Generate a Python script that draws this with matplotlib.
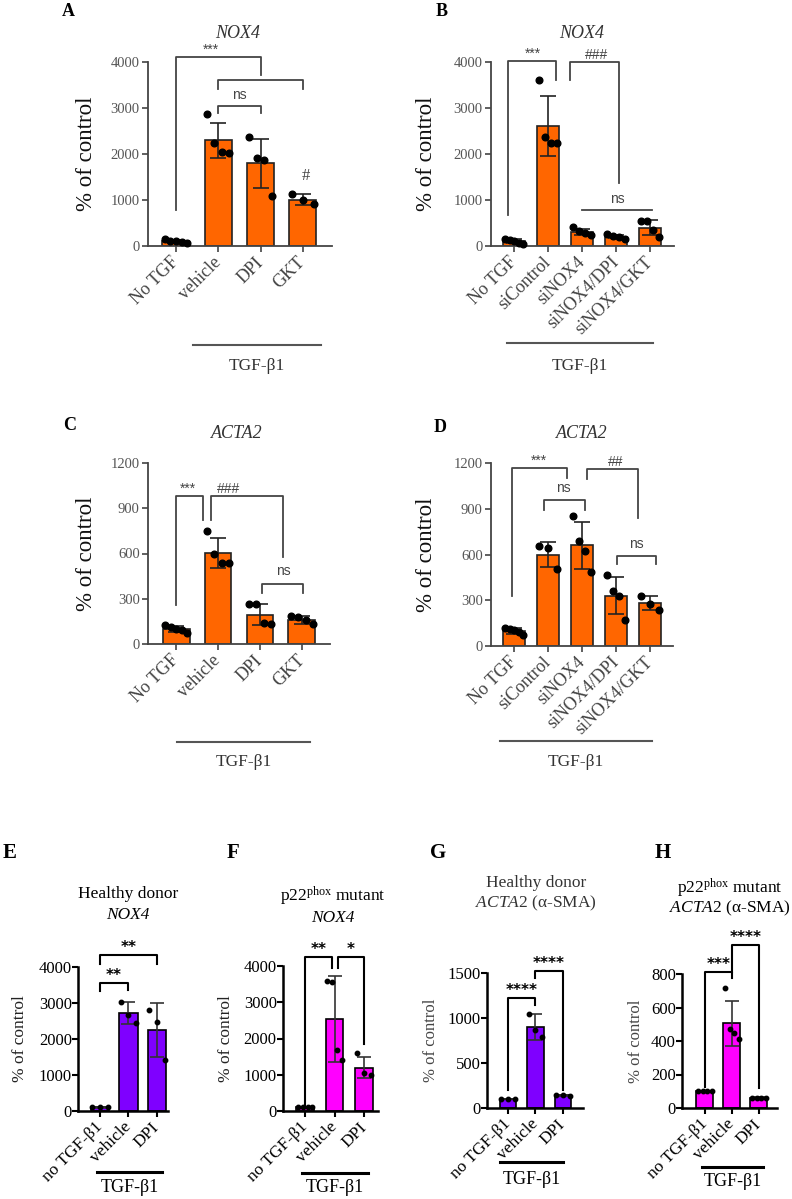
import numpy as np
import matplotlib
matplotlib.use('Agg')
import matplotlib.pyplot as plt
from matplotlib.lines import Line2D

# fonts
plt.rcParams['font.family'] = ['Liberation Serif', 'DejaVu Serif']
plt.rcParams['mathtext.fontset'] = 'custom'
plt.rcParams['mathtext.rm'] = 'Liberation Serif'
plt.rcParams['mathtext.it'] = 'Liberation Serif:italic'

W, H = 792, 1199

# ---------------- data ----------------
lab_A = ['No TGF', 'vehicle', 'DPI', 'GKT']
mean_A = [100, 2300, 1800, 1010]
sd_A = [40, 380, 530, 110]
pts_A = [[150, 110, 100, 90, 60], [2870, 2230, 2050, 2030],
         [2360, 1920, 1870, 1090], [1140, 1000, 910]]

lab_B = ['No TGF', 'siControl', 'siNOX4', 'siNOX4/DPI', 'siNOX4/GKT']
mean_B = [100, 2610, 310, 205, 400]
sd_B = [45, 655, 70, 40, 170]
pts_B = [[150, 120, 100, 70, 40], [3600, 2380, 2250, 2230],
         [420, 330, 290, 250], [260, 220, 190, 160], [545, 545, 340, 200]]

lab_C = ['No TGF', 'vehicle', 'DPI', 'GKT']
mean_C = [100, 605, 195, 160]
sd_C = [20, 100, 70, 25]
pts_C = [[125, 110, 100, 95, 75], [750, 597, 539, 535],
         [265, 265, 140, 135], [185, 180, 160, 135]]

lab_D = ['No TGF', 'siControl', 'siNOX4', 'siNOX4/DPI', 'siNOX4/GKT']
mean_D = [100, 600, 660, 330, 280]
sd_D = [20, 85, 155, 120, 45]
pts_D = [[120, 110, 105, 95, 75], [656, 643, 503], [852, 686, 621, 485],
         [463, 358, 328, 168], [328, 278, 234]]

lab_EH = ['no TGF-β1', 'vehicle', 'DPI']
mean_E = [100, 2720, 2240]
sd_E = [10, 300, 750]
pts_E = [[100, 100, 100], [3030, 2680, 2450], [2800, 2480, 1430]]

mean_F = [100, 2540, 1190]
sd_F = [10, 1180, 290]
pts_F = [[100, 100, 100, 100], [3600, 3560, 1680, 1420], [1600, 1050, 1000]]

mean_G = [100, 900, 140]
sd_G = [5, 140, 10]
pts_G = [[100, 100, 100], [1040, 870, 790], [150, 145, 135]]

mean_H = [100, 505, 60]
sd_H = [3, 135, 3]
pts_H = [[100, 100, 100, 100], [715, 470, 450, 410], [62, 60, 60, 58]]

ORANGE = '#FF6600'
PURPLE = '#7F00FF'
MAGENTA = '#FF00FF'

fig = plt.figure(figsize=(W / 100, H / 100), dpi=100)


def fx(x):
    return x / W


def fy(y):
    return 1 - y / H


def make_ax(box, xlim, ymax, yticks, style):
    x0, x1, yt, yb = box
    ax = fig.add_axes([fx(x0), fy(yb), fx(x1 - x0), (yb - yt) / H])
    ax.set_xlim(*xlim)
    ax.set_ylim(0, ymax)
    ax.set_yticks(yticks)
    ax.spines[['top', 'right']].set_visible(False)
    if style == 'old':
        c, lw = '#444444', 1.3
        ax.tick_params(colors='#444444', labelcolor='#555555', width=1.2, length=4, labelsize=10.5)
        ax.tick_params(axis='y', pad=2)
    else:
        c, lw = 'black', 1.8
        ax.tick_params(colors='black', width=1.5, length=4, labelsize=12)
        ax.tick_params(axis='y', pad=0.5)
    for s in ['left', 'bottom']:
        ax.spines[s].set_color(c)
        ax.spines[s].set_linewidth(lw)
    ax.patch.set_alpha(0)
    return ax


def draw_bars(ax, labels, means, sds, pts, color, width, style, xsize):
    x = np.arange(len(labels))
    ec = '#222222' if style == 'old' else 'black'
    ax.bar(x, means, width=width, color=color, edgecolor=ec, linewidth=1.2, zorder=2)
    ax.errorbar(x, means, yerr=sds, fmt='none', ecolor='#222222' if style == 'old' else '#333333',
                elinewidth=1.2, capsize=5.5 if style == 'old' else 5, capthick=1.2, zorder=3)
    for i, p in enumerate(pts):
        off = np.linspace(-0.27, 0.27, len(p)) if len(p) > 1 else np.zeros(1)
        ax.plot(i + off * width / 0.65, p, 'o', color='black',
                ms=4.8 if style == 'old' else 3.2, zorder=4, clip_on=False)
    ax.set_xticks(x)
    ax.set_xticklabels(labels, rotation=45, ha='right', va='center',
                       rotation_mode='anchor', fontsize=xsize,
                       color='#444444' if style == 'old' else 'black')
    ax.tick_params(axis='x', pad=6)


def bracket(ax, xa, xb, top, yl, yr, text, tx=None, style='old', dy=0):
    c = '#444444' if style == 'old' else 'black'
    lw = 1.3 if style == 'old' else 1.5
    ax.add_line(Line2D([xa, xa, xb, xb], [yl, top, top, yr], color=c, lw=lw, clip_on=False))
    if tx is None:
        tx = (xa + xb) / 2
    if style == 'old':
        ax.text(tx, top + dy, text, ha='center', va='bottom', fontsize=10,
                family='Liberation Sans', color='#444444')
    else:
        ax.text(tx, top + dy, text, ha='center', va='bottom', fontsize=11,
                family='DejaVu Sans', weight='bold', color='black')


def tgf_line(xa, xb, y, ty, style):
    c = '#555555' if style == 'old' else 'black'
    lw = 1.5 if style == 'old' else 2.2
    fig.add_artist(Line2D([fx(xa), fx(xb)], [fy(y), fy(y)], color=c, lw=lw))
    fig.text(fx((xa + xb) / 2), fy(ty), 'TGF-β1', ha='center', va='center',
             fontsize=12.5 if style == 'old' else 13, color='#333333' if style == 'old' else 'black')


def ylabel(ax, box, xpix, size, color):
    x0, x1, yt, yb = box
    ax.set_ylabel('% of control', fontsize=size, color=color)
    ax.yaxis.set_label_coords((xpix - x0) / (x1 - x0), 0.5)


# ---------------- panel A ----------------
box = (148, 332, 62, 246)
ax = make_ax(box, (-0.66, 3.69), 4000, [0, 1000, 2000, 3000, 4000], 'old')
draw_bars(ax, lab_A, mean_A, sd_A, pts_A, ORANGE, 0.64, 'old', 13)
ylabel(ax, box, 97, 16.5, '#111111')
bracket(ax, 0, 2, 4110, 780, 3720, '***', tx=0.83)
bracket(ax, 1, 3, 3610, 3410, 3410, '')
bracket(ax, 1, 2, 3040, 2890, 2890, 'ns', dy=80)
ax.text(3.07, 1520, '#', ha='center', va='center', fontsize=12, color='#444444')
fig.text(fx(68), fy(12), 'A', ha='center', va='center', fontsize=13, weight='bold')
fig.text(fx(238), fy(33), 'NOX4', ha='center', va='center', fontsize=13, style='italic', color='#333333')
tgf_line(193, 321, 345, 366, 'old')

# ---------------- panel B ----------------
box = (491, 674, 62, 246)
ax = make_ax(box, (-0.68, 4.71), 4000, [0, 1000, 2000, 3000, 4000], 'old')
draw_bars(ax, lab_B, mean_B, sd_B, pts_B, ORANGE, 0.65, 'old', 13)
ylabel(ax, box, 437, 16.5, '#111111')
bracket(ax, -0.17, 1.22, 4020, 670, 3610, '***', tx=0.56)
bracket(ax, 1.65, 3.09, 4010, 3610, 1370, '###', tx=2.44)
ax.add_line(Line2D([2.0, 4.06], [780, 780], color='#444444', lw=1.3, clip_on=False))
ax.text(3.03, 860, 'ns', ha='center', va='bottom', fontsize=10, family='Liberation Sans', color='#444444')
fig.text(fx(442), fy(12), 'B', ha='center', va='center', fontsize=13, weight='bold')
fig.text(fx(582), fy(33), 'NOX4', ha='center', va='center', fontsize=13, style='italic', color='#333333')
tgf_line(507, 653, 343, 366, 'old')

# ---------------- panel C ----------------
box = (148, 330, 463, 644)
ax = make_ax(box, (-0.67, 3.67), 1200, [0, 300, 600, 900, 1200], 'old')
draw_bars(ax, lab_C, mean_C, sd_C, pts_C, ORANGE, 0.64, 'old', 13)
ylabel(ax, box, 97, 16.5, '#111111')
bracket(ax, 0, 0.64, 981, 259, 822, '***', tx=0.29)
bracket(ax, 0.83, 2.55, 981, 822, 577, '###', tx=1.24)
bracket(ax, 2.05, 3.02, 398, 338, 338, 'ns', tx=2.55, dy=40)
fig.text(fx(70), fy(426), 'C', ha='center', va='center', fontsize=13, weight='bold')
fig.text(fx(237), fy(433), 'ACTA2', ha='center', va='center', fontsize=13, style='italic', color='#333333')
tgf_line(177, 310, 742, 762, 'old')

# ---------------- panel D ----------------
box = (491, 673, 463, 646)
ax = make_ax(box, (-0.68, 4.68), 1200, [0, 300, 600, 900, 1200], 'old')
draw_bars(ax, lab_D, mean_D, sd_D, pts_D, ORANGE, 0.65, 'old', 13)
ylabel(ax, box, 437, 16.5, '#111111')
bracket(ax, -0.06, 1.56, 1167, 328, 1102, '***', tx=0.74)
bracket(ax, 0.88, 2.09, 957, 892, 892, 'ns', tx=1.44, dy=30)
bracket(ax, 2.15, 3.65, 1161, 1095, 839, '##', tx=3.0)
bracket(ax, 3.03, 4.18, 590, 538, 538, 'ns', tx=3.59, dy=30)
fig.text(fx(440), fy(427), 'D', ha='center', va='center', fontsize=13, weight='bold')
fig.text(fx(582), fy(433), 'ACTA2', ha='center', va='center', fontsize=13, style='italic', color='#333333')
tgf_line(500, 652, 741, 762, 'old')

# ---------------- panel E ----------------
box = (78, 168, 967, 1111)
ax = make_ax(box, (-0.77, 2.39), 4000, [0, 1000, 2000, 3000, 4000], 'new')
draw_bars(ax, lab_EH, mean_E, sd_E, pts_E, PURPLE, 0.65, 'new', 12.5)
ylabel(ax, box, 28, 12.5, '#222222')
bracket(ax, 0, 1, 3560, 3330, 3360, '**', style='new')
bracket(ax, 0, 2, 4330, 4080, 4080, '**', style='new')
fig.text(fx(10), fy(853), 'E', ha='center', va='center', fontsize=15, weight='bold')
fig.text(fx(128), fy(894), 'Healthy donor', ha='center', va='center', fontsize=12.5)
fig.text(fx(128), fy(915), 'NOX4', ha='center', va='center', fontsize=12.5, style='italic')
tgf_line(97, 162, 1172, 1187, 'new')

# ---------------- panel F ----------------
box = (283, 378, 966, 1111)
ax = make_ax(box, (-0.75, 2.47), 4000, [0, 1000, 2000, 3000, 4000], 'new')
draw_bars(ax, lab_EH, mean_F, sd_F, pts_F, MAGENTA, 0.6, 'new', 12.5)
ylabel(ax, box, 234, 12.5, '#222222')
bracket(ax, 0, 0.92, 4250, 110, 3945, '**', style='new')
bracket(ax, 1.12, 2, 4250, 3945, 1850, '*', style='new')
fig.text(fx(233), fy(853), 'F', ha='center', va='center', fontsize=15, weight='bold')
fig.text(fx(333), fy(896), r'p22$^{\mathrm{phox}}$ mutant', ha='center', va='center', fontsize=12.5)
fig.text(fx(333), fy(918), 'NOX4', ha='center', va='center', fontsize=12.5, style='italic')
tgf_line(302, 368, 1173, 1188, 'new')

# ---------------- panel G ----------------
box = (487, 583, 973, 1108)
ax = make_ax(box, (-0.76, 2.73), 1500, [0, 500, 1000, 1500], 'new')
draw_bars(ax, lab_EH, mean_G, sd_G, pts_G, PURPLE, 0.6, 'new', 12.5)
ylabel(ax, box, 439, 12, '#444444')
bracket(ax, 0, 1, 1222, 200, 1140, '****', style='new')
bracket(ax, 1, 2, 1522, 1440, 200, '****', style='new')
fig.text(fx(438), fy(853), 'G', ha='center', va='center', fontsize=15, weight='bold')
fig.text(fx(536), fy(883), 'Healthy donor', ha='center', va='center', fontsize=12.5, color='#333333')
fig.text(fx(536), fy(903), r'$\mathit{ACTA2}$ (α-SMA)', ha='center', va='center', fontsize=12.5, color='#333333')
tgf_line(500, 563, 1162, 1180, 'new')

# ---------------- panel H ----------------
box = (682, 777, 974, 1108)
ax = make_ax(box, (-0.85, 2.67), 800, [0, 200, 400, 600, 800], 'new')
draw_bars(ax, lab_EH, mean_H, sd_H, pts_H, MAGENTA, 0.63, 'new', 12.5)
ylabel(ax, box, 644, 12, '#444444')
bracket(ax, 0, 1, 812, 125, 776, '***', style='new')
bracket(ax, 1, 2, 973, 812, 119, '****', style='new')
fig.text(fx(663), fy(853), 'H', ha='center', va='center', fontsize=15, weight='bold')
fig.text(fx(730), fy(888), r'p22$^{\mathrm{phox}}$ mutant', ha='center', va='center', fontsize=12.5)
fig.text(fx(730), fy(908), r'$\mathit{ACTA2}$ (α-SMA)', ha='center', va='center', fontsize=12.5)
tgf_line(702, 763, 1167, 1182, 'new')

fig.savefig('out.png', dpi=100, facecolor='white')
